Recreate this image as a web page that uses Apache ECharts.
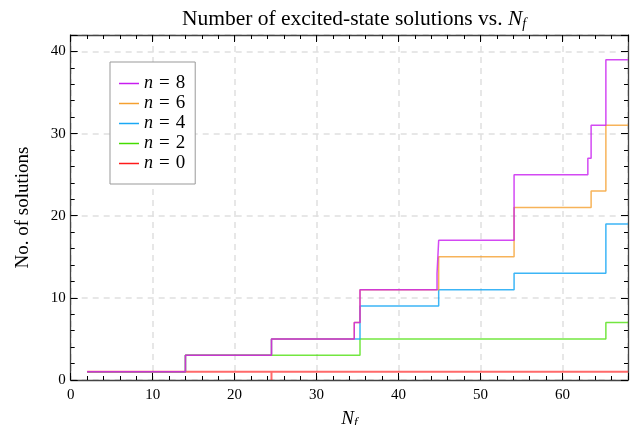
<!DOCTYPE html>
<html><head><meta charset="utf-8">
<script src="https://cdn.jsdelivr.net/npm/echarts@6/dist/echarts.min.js"></script>
<style>html,body{margin:0;padding:0;background:#fff}#c{width:632px;height:425px}</style>
</head><body><div id="c"></div>
<script>
// step data: x = N_f where the count changes, y = new count
const n8x = [2, 14, 24.5, 34.6, 35.3, 44.7, 44.9, 54.1, 63.1, 63.5, 65.3, 68];
const n8y = [1, 3, 5, 7, 11, 13, 17, 25, 27, 31, 39, 39];
const n6x = [2, 14, 24.5, 34.6, 35.3, 44.9, 54.1, 63.5, 65.3, 68];
const n6y = [1, 3, 5, 7, 11, 15, 21, 23, 31, 31];
const n4x = [2, 14, 24.5, 35.3, 44.9, 54.1, 65.3, 68];
const n4y = [1, 3, 5, 9, 11, 13, 19, 19];
const n2x = [2, 14, 35.3, 65.3, 68];
const n2y = [1, 3, 5, 7, 7];
const n0x = [2, 24.5, 24.5, 24.5, 68];
const n0y = [1, 1, 0, 1, 1];
const names = ['n = 8', 'n = 6', 'n = 4', 'n = 2', 'n = 0'];

const FONT = '"Liberation Serif","DejaVu Serif",serif';
const zip = (xs, ys) => xs.map((x, i) => [x, ys[i]]);
const mk = (name, xs, ys, color, op, w) => ({
  name, type: 'line', step: 'end', symbol: 'none', data: zip(xs, ys),
  color, lineStyle: { width: w || 1.5, color, opacity: op }, animation: false
});
const tickStyle = { show: true, inside: true, length: 7, lineStyle: { color: '#000', width: 1 } };
const minorStyle = { show: true, splitNumber: 5, length: 4, lineStyle: { color: '#000', width: 1 } };
const axisLine = { show: true, onZero: false, lineStyle: { color: '#444', width: 1.3 } };
const grid = { show: true, lineStyle: { color: '#e0e0e0', type: [6, 5], width: 1.5 } };

const chart = echarts.init(document.getElementById('c'));
chart.setOption({
  animation: false,
  title: {
    text: 'Number of excited-state solutions vs. {i|N}{s|f}',
    left: 349, top: 3, textAlign: 'center',
    textStyle: { fontFamily: FONT, fontSize: 21.5, fontWeight: 'normal', color: '#000',
      rich: { i: { fontFamily: FONT, fontSize: 21.5, fontStyle: 'italic' },
              s: { fontFamily: FONT, fontSize: 14, fontStyle: 'italic', verticalAlign: 'bottom', padding: [9, 0, 0, 0] } } }
  },
  grid: { left: 70.7, right: 4, top: 35, bottom: 45, containLabel: false, outerBoundsMode: 'none' },
  legend: {
    data: names, orient: 'vertical', left: 110, top: 62,
    padding: [12, 10, 11, 9], itemGap: 1, itemWidth: 20, itemHeight: 1.5, icon: 'rect',
    borderColor: '#999', borderWidth: 1, backgroundColor: '#fff',
    formatter: nm => '{i|n}{e|=}{d|' + nm.slice(4) + '}',
    textStyle: { fontFamily: FONT, fontSize: 18, color: '#000', lineHeight: 16,
      rich: { i: { fontFamily: FONT, fontSize: 18, fontStyle: 'italic', lineHeight: 16 },
              e: { fontFamily: FONT, fontSize: 19, lineHeight: 16, padding: [0, 6, 0, 6] },
              d: { fontFamily: FONT, fontSize: 19, lineHeight: 16 } } }
  },
  xAxis: [{
    type: 'value', min: 0, max: 68, interval: 10,
    name: '{i|N}{s|f}', nameLocation: 'middle', nameGap: 28,
    nameTextStyle: { rich: { i: { fontFamily: FONT, fontSize: 19, fontStyle: 'italic', color: '#000' },
      s: { fontFamily: FONT, fontSize: 13, fontStyle: 'italic', color: '#000', verticalAlign: 'bottom', padding: [8, 0, 0, 0] } } },
    axisLine, axisTick: tickStyle, minorTick: minorStyle,
    axisLabel: { fontFamily: FONT, fontSize: 15, color: '#000', margin: 8, showMaxLabel: false },
    splitLine: grid
  }, {
    type: 'value', min: 0, max: 68, interval: 10, position: 'top',
    axisLine, axisTick: tickStyle, minorTick: minorStyle, axisLabel: { show: false }, splitLine: { show: false }
  }],
  yAxis: [{
    type: 'value', min: 0, max: 42, interval: 10,
    name: 'No. of solutions', nameLocation: 'middle', nameGap: 38,
    nameTextStyle: { fontFamily: FONT, fontSize: 19, color: '#000' },
    axisLine, axisTick: tickStyle, minorTick: minorStyle,
    axisLabel: { fontFamily: FONT, fontSize: 15, color: '#000', margin: 5, showMaxLabel: false },
    splitLine: grid
  }, {
    type: 'value', min: 0, max: 42, interval: 10, position: 'right',
    axisLine, axisTick: tickStyle, minorTick: minorStyle, axisLabel: { show: false }, splitLine: { show: false }
  }],
  series: [
    mk('n = 0', n0x, n0y, '#ff1a1a', 0.65, 2),
    mk('n = 2', n2x, n2y, '#44dd00', 0.75),
    mk('n = 4', n4x, n4y, '#1aa8f5', 0.85),
    mk('n = 6', n6x, n6y, '#f5a030', 0.8),
    mk('n = 8', n8x, n8y, '#c81cf0', 0.8)
  ]
});
</script></body></html>
